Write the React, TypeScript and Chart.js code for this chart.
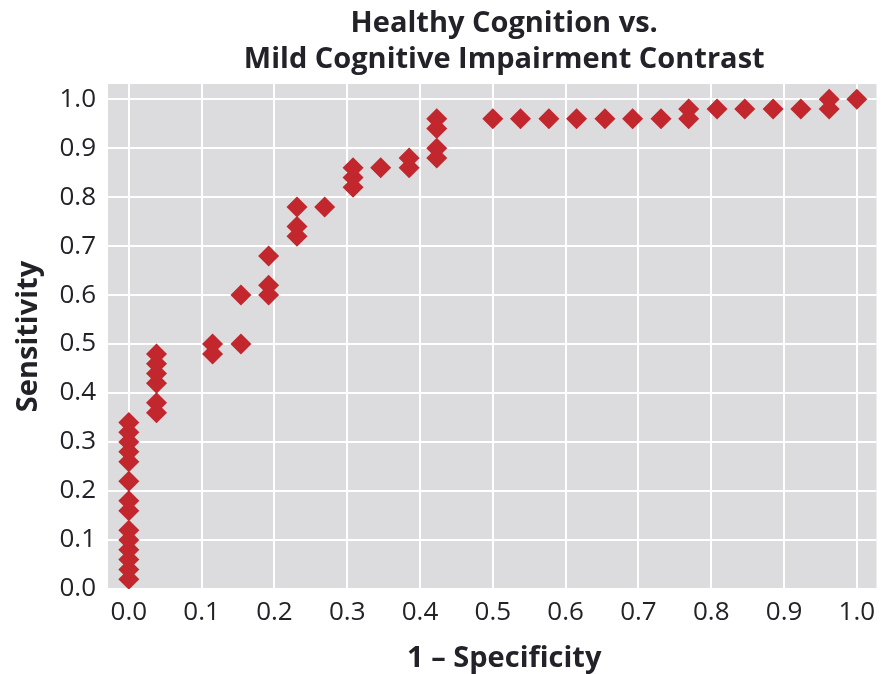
import React, { useEffect, useRef } from 'react';
import { Chart, registerables } from 'chart.js';

Chart.register(...registerables);

const titleLines = ['Healthy Cognition vs.', 'Mild Cognitive Impairment Contrast'];
const xAxisTitle = '1 \u2013 Specificity';
const yAxisTitle = 'Sensitivity';

const xTicks = [0, 0.1, 0.2, 0.3, 0.4, 0.5, 0.6, 0.7, 0.8, 0.9, 1.0];
const yTicks = [0, 0.1, 0.2, 0.3, 0.4, 0.5, 0.6, 0.7, 0.8, 0.9, 1.0];

// 1 - specificity of each ROC point
const fprValues = [
  0, 0, 0, 0, 0, 0, 0, 0, 0, 0, 0, 0, 0, 0,
  0.038, 0.038, 0.038, 0.038, 0.038, 0.038,
  0.115, 0.115,
  0.154, 0.154,
  0.192, 0.192, 0.192,
  0.231, 0.231, 0.231,
  0.269,
  0.308, 0.308, 0.308,
  0.346,
  0.385, 0.385,
  0.423, 0.423, 0.423, 0.423,
  0.5, 0.538, 0.577, 0.615, 0.654, 0.692, 0.731,
  0.769, 0.769,
  0.808, 0.846, 0.885, 0.923,
  0.962, 0.962,
  1.0,
];

// sensitivity of each ROC point
const tprValues = [
  0.02, 0.04, 0.06, 0.08, 0.10, 0.12, 0.16, 0.18, 0.22, 0.26, 0.28, 0.30, 0.32, 0.34,
  0.36, 0.38, 0.42, 0.44, 0.46, 0.48,
  0.48, 0.50,
  0.50, 0.60,
  0.60, 0.62, 0.68,
  0.72, 0.74, 0.78,
  0.78,
  0.82, 0.84, 0.86,
  0.86,
  0.86, 0.88,
  0.88, 0.90, 0.94, 0.96,
  0.96, 0.96, 0.96, 0.96, 0.96, 0.96, 0.96,
  0.96, 0.98,
  0.98, 0.98, 0.98, 0.98,
  0.98, 1.0,
  1.0,
];

const MARKER = '#c1272d';
const PLOT_BG = '#dcdcde';
const TEXT = '#222228';
const FONT = "'Open Sans', 'DejaVu Sans', sans-serif";

export default function App() {
  const canvasRef = useRef<HTMLCanvasElement | null>(null);

  useEffect(() => {
    document.body.style.margin = '0';
    const canvas = canvasRef.current;
    if (!canvas) return;

    const bgPlugin = {
      id: 'plotBg',
      beforeDraw(chart: any) {
        const { ctx, chartArea } = chart;
        ctx.save();
        ctx.fillStyle = PLOT_BG;
        ctx.fillRect(chartArea.left, chartArea.top, chartArea.right - chartArea.left, chartArea.bottom - chartArea.top);
        ctx.restore();
      },
    };

    const textPlugin = {
      id: 'texts',
      afterDraw(chart: any) {
        const { ctx, chartArea } = chart;
        const cx = (chartArea.left + chartArea.right) / 2 + 12;
        ctx.save();
        ctx.fillStyle = TEXT;
        ctx.textAlign = 'center';
        ctx.textBaseline = 'alphabetic';
        ctx.font = `bold 29px ${FONT}`;
        ctx.fillText(titleLines[0], cx, 32);
        ctx.fillText(titleLines[1], cx, 68);
        ctx.fillText(xAxisTitle, cx, 667);
        ctx.translate(29, (chartArea.top + chartArea.bottom) / 2);
        ctx.rotate(-Math.PI / 2);
        ctx.textBaseline = 'middle';
        ctx.fillText(yAxisTitle, 0, 0);
        ctx.restore();
      },
    };

    const points = fprValues.map((x, i) => ({ x, y: tprValues[i] }));

    const chart = new Chart(canvas, {
      type: 'scatter',
      data: {
        datasets: [
          {
            data: points,
            pointStyle: 'rectRot',
            pointRadius: 10.5,
            pointHoverRadius: 10.5,
            backgroundColor: MARKER,
            borderColor: MARKER,
            borderWidth: 0,
          },
        ],
      },
      options: {
        animation: false,
        responsive: false,
        maintainAspectRatio: false,
        layout: { padding: { top: 84, right: 3, left: 0, bottom: 0 } },
        plugins: {
          legend: { display: false },
          title: { display: false },
          tooltip: { enabled: false },
        },
        scales: {
          x: {
            type: 'linear',
            min: -0.0286,
            max: 1.027,
            afterBuildTicks(scale: any) {
              scale.ticks = xTicks.map((v) => ({ value: v }));
            },
            afterFit(scale: any) {
              scale.height = 85;
            },
            border: { display: false },
            grid: { color: '#ffffff', lineWidth: 2, drawTicks: false },
            ticks: {
              padding: 8,
              color: TEXT,
              font: { family: FONT, size: 26 },
              callback: (v: any) => Number(v).toFixed(1),
            },
          },
          y: {
            type: 'linear',
            min: 0,
            max: 1.031,
            afterBuildTicks(scale: any) {
              scale.ticks = yTicks.map((v) => ({ value: v }));
            },
            afterFit(scale: any) {
              scale.width = 108;
            },
            border: { display: false },
            grid: { color: '#ffffff', lineWidth: 2, drawTicks: false },
            ticks: {
              padding: 12,
              color: TEXT,
              font: { family: FONT, size: 26 },
              callback: (v: any) => Number(v).toFixed(1),
            },
          },
        },
      },
      plugins: [bgPlugin, textPlugin],
    });

    return () => chart.destroy();
  }, []);

  return (
    <div style={{ width: 887, height: 674 }}>
      <canvas ref={canvasRef} width={887} height={674} style={{ display: 'block' }} />
    </div>
  );
}
